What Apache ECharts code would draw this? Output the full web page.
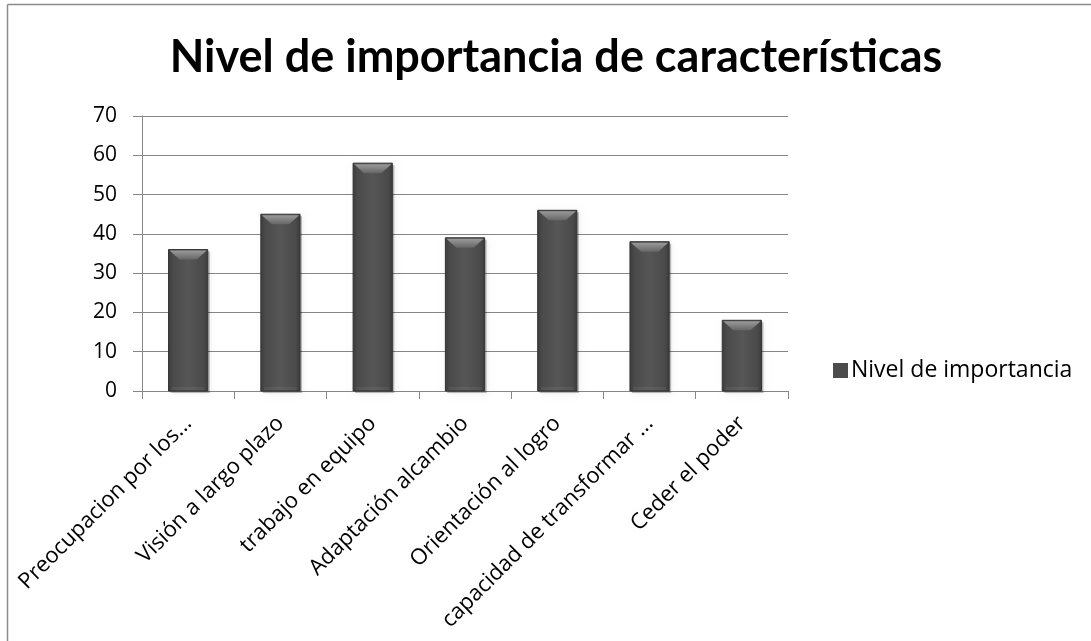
<!DOCTYPE html>
<html>
<head>
<meta charset="utf-8">
<script src="https://cdn.jsdelivr.net/npm/echarts@6/dist/echarts.min.js"></script>
<style>
  html, body { margin: 0; padding: 0; background: #ffffff; }
  #chart { width: 1091px; height: 641px; }
</style>
</head>
<body>
<div id="chart"></div>
<script>
// Characteristics and their importance scores
const categories = [
  'Preocupacion por los...',
  'Visión a largo plazo',
  'trabajo en equipo',
  'Adaptación alcambio',
  'Orientación al logro',
  'capacidad de transformar ...',
  'Ceder el poder'
];
const importance = [36, 45, 58, 39, 46, 38, 18];
const yTicks = [0, 10, 20, 30, 40, 50, 60, 70];

const seriesName = 'Nivel de importancia';
const TITLE_FONT = 'Lato, "Open Sans", sans-serif';
const LABEL_FONT = '"Open Sans", Lato, sans-serif';

// Bevelled column: body, lit top facet, soft drop shadow
function renderBevelBar(params, api) {
  const idx = api.value(0);
  const val = api.value(1);
  const top = api.coord([idx, val]);
  const base = api.coord([idx, 0]);
  const w = api.size([1, 0])[0] * 0.425;
  const x0 = top[0] - w / 2;
  const x1 = top[0] + w / 2;
  const y0 = top[1];
  const y1 = base[1];
  const bev = Math.min(10, (y1 - y0) / 2);
  const inset = 11;
  return {
    type: 'group',
    children: [
      { // drop shadow
        type: 'rect',
        shape: { x: x0 + 2, y: y0 + 2, width: w, height: y1 - y0 },
        style: { fill: 'rgba(0,0,0,0.25)', shadowBlur: 6, shadowColor: 'rgba(0,0,0,0.35)' },
        silent: true
      },
      { // body
        type: 'rect',
        shape: { x: x0, y: y0, width: w, height: y1 - y0 },
        style: {
          fill: new echarts.graphic.LinearGradient(0, 0, 1, 0, [
            { offset: 0, color: '#3b3b3b' },
            { offset: 0.12, color: '#4a4a4a' },
            { offset: 0.5, color: '#565656' },
            { offset: 0.88, color: '#4a4a4a' },
            { offset: 1, color: '#3b3b3b' }
          ]),
          stroke: '#333333',
          lineWidth: 1
        }
      },
      { // lit top facet
        type: 'polygon',
        shape: { points: [[x0 + 1, y0 + 1], [x1 - 1, y0 + 1], [x1 - inset, y0 + bev], [x0 + inset, y0 + bev]] },
        style: {
          fill: new echarts.graphic.LinearGradient(0, 0, 0, 1, [
            { offset: 0, color: '#9a9a9a' },
            { offset: 1, color: '#666666' }
          ])
        },
        silent: true
      },
      { // faint lighter bottom edge
        type: 'rect',
        shape: { x: x0 + 3, y: y1 - 4, width: w - 6, height: 3 },
        style: { fill: 'rgba(255,255,255,0.06)' },
        silent: true
      }
    ]
  };
}

const chart = echarts.init(document.getElementById('chart'), null, { renderer: 'canvas' });

chart.setOption({
  backgroundColor: '#ffffff',
  animation: false,
  title: {
    text: 'Nivel de importancia de características',
    left: 551,
    textAlign: 'center',
    top: 30,
    textStyle: { fontFamily: TITLE_FONT, fontWeight: 'bold', fontSize: 45, color: '#000000' }
  },
  legend: {
    data: [{ name: seriesName, icon: 'rect' }],
    left: 828,
    top: 354,
    itemWidth: 15,
    itemHeight: 15,
    itemGap: 6,
    textStyle: { fontFamily: LABEL_FONT, fontSize: 23, color: '#000000', padding: [0, 0, 0, -2] }
  },
  grid: { left: 142, right: 303, top: 116, bottom: 250, containLabel: false },
  xAxis: {
    type: 'category',
    data: categories,
    boundaryGap: true,
    axisLine: { lineStyle: { color: '#868686', width: 1 } },
    axisTick: { show: true, length: 8, alignWithLabel: false, lineStyle: { color: '#868686' } },
    axisLabel: {
      rotate: 45,
      interval: 0,
      margin: 29,
      fontFamily: LABEL_FONT,
      fontSize: 22,
      color: '#000000'
    }
  },
  yAxis: {
    type: 'value',
    min: yTicks[0],
    max: yTicks[yTicks.length - 1],
    interval: 10,
    axisLine: { show: true, lineStyle: { color: '#868686', width: 1 } },
    axisTick: { show: true, length: 9, lineStyle: { color: '#868686' } },
    splitLine: { show: true, lineStyle: { color: '#868686', width: 1 } },
    axisLabel: {
      margin: 25,
      fontFamily: LABEL_FONT,
      fontSize: 21,
      color: '#000000'
    }
  },
  series: [{
    name: seriesName,
    type: 'custom',
    renderItem: renderBevelBar,
    encode: { x: 0, y: 1 },
    itemStyle: { color: '#4c4c4c' },
    data: importance.map((v, i) => [i, v])
  }],
  graphic: [
    { type: 'line', shape: { x1: 7.5, y1: 4.5, x2: 1091, y2: 4.5 }, style: { stroke: '#8c8c8c', lineWidth: 1.5 }, silent: true },
    { type: 'line', shape: { x1: 7.5, y1: 4.5, x2: 7.5, y2: 641 }, style: { stroke: '#8c8c8c', lineWidth: 1.5 }, silent: true }
  ]
});
</script>
</body>
</html>
